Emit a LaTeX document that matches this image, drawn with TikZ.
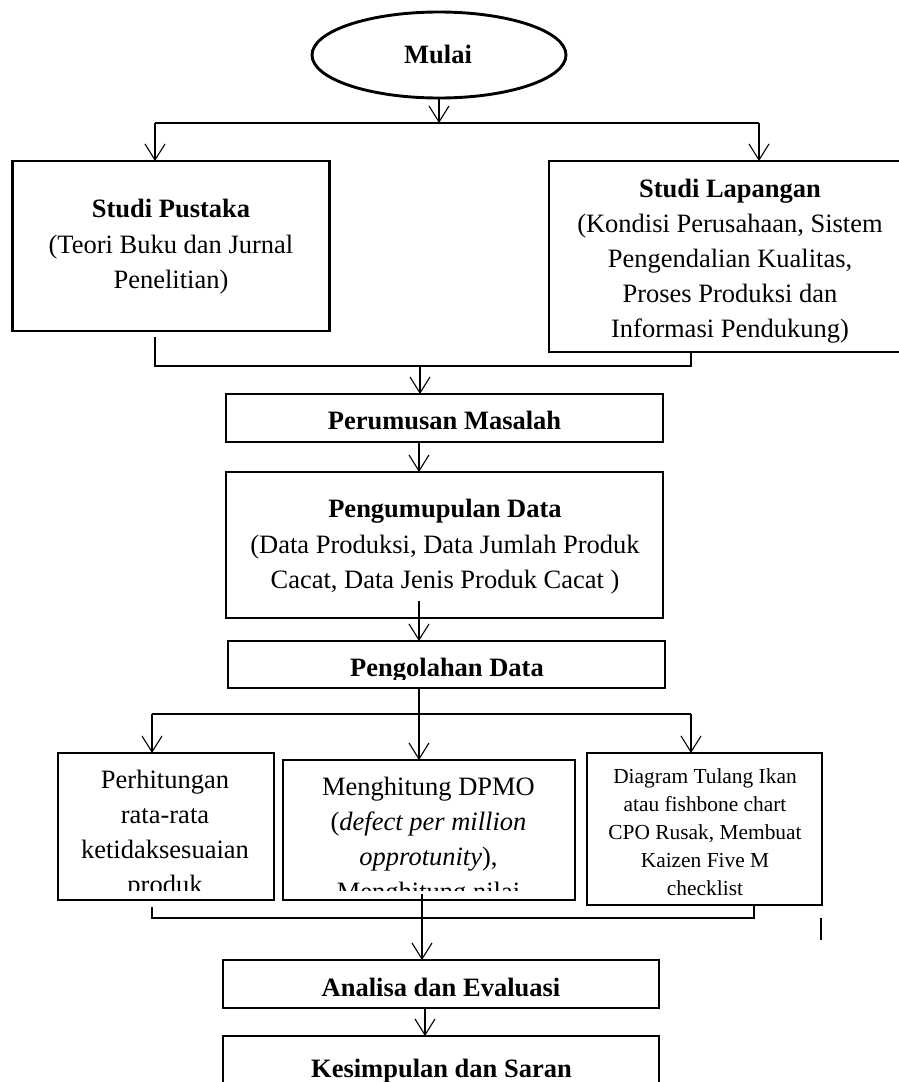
\documentclass[tikz,border=0pt]{standalone}
\usepackage{fontspec}
\setmainfont{Liberation Serif}
\usetikzlibrary{arrows.meta,shapes.geometric}
\begin{document}
\begin{tikzpicture}[x=1pt,y=-1pt,
 box/.style={draw, rectangle, line width=2.9pt, inner sep=0pt, outer sep=0pt},
 tx/.style={anchor=base, inner sep=0pt, font=\fontsize{26.5}{35}\selectfont},
 txs/.style={anchor=base, inner sep=0pt, font=\fontsize{21.4}{28}\selectfont},
 conn/.style={line width=1.1pt},
 arr/.style={conn, -{Straight Barb[length=16pt,width=20pt]}}]
\clip (0,0) rectangle (899,1082);
\fill[white] (0,0) rectangle (899,1082);

% shapes
\node[draw, ellipse, line width=2.9pt, inner sep=0pt, minimum width=254pt, minimum height=86pt] (mulai) at (439,55) {};
\node[box, minimum width=317pt, minimum height=170pt] (pustaka) at (171,246) {};
\node[box, minimum width=363pt, minimum height=191pt] (lapangan) at (730.5,256.5) {};
\node[box, minimum width=437pt, minimum height=48pt] (perumusan) at (444.5,418) {};
\node[box, minimum width=437pt, minimum height=146pt] (pengumpulan) at (444.5,545) {};
\node[box, minimum width=437pt, minimum height=47pt] (pengolahan) at (446.5,664.5) {};
\node[box, minimum width=216pt, minimum height=147pt] (perhitungan) at (166,826.5) {};
\node[box, minimum width=292pt, minimum height=140pt] (menghitung) at (429,830) {};
\node[box, minimum width=235pt, minimum height=152pt] (diagram) at (704.5,829) {};
\node[box, minimum width=436pt, minimum height=48pt] (analisa) at (441,984) {};
\node[box, minimum width=436pt, minimum height=74pt] (kesimpulan) at (441,1073) {};

% texts
\node[tx] (tmulai) at (438,63) {\textbf{Mulai}};
\node[tx] (tp1) at (171,217) {\textbf{Studi Pustaka}};
\node[tx] (tp2) at (171,253) {(Teori Buku dan Jurnal};
\node[tx] (tp3) at (171,288) {Penelitian)};
\node[tx] (tl1) at (730,197) {\textbf{Studi Lapangan}};
\node[tx] (tl2) at (730,232) {(Kondisi Perusahaan, Sistem};
\node[tx] (tl3) at (730,267) {Pengendalian Kualitas,};
\node[tx] (tl4) at (730,302) {Proses Produksi dan};
\node[tx] (tl5) at (730,337) {Informasi Pendukung)};
\node[tx] (tr1) at (444.5,429) {\textbf{Perumusan Masalah}};
\node[tx] (tg1) at (445,517) {\textbf{Pengumupulan Data}};
\node[tx] (tg2) at (445,553) {(Data Produksi, Data Jumlah Produk};
\node[tx] (tg3) at (445,588) {Cacat, Data Jenis Produk Cacat )};
\begin{scope}
\clip (228,641) rectangle (665,679);
\node[tx] (to1) at (447,676) {\textbf{Pengolahan Data}};
\end{scope}
\begin{scope}
\clip (58,753) rectangle (274,890);
\node[tx] (th1) at (165,788) {Perhitungan};
\node[tx] (th2) at (165,823) {rata-rata};
\node[tx] (th3) at (165,858) {ketidaksesuaian};
\node[tx] (th4) at (165,893) {produk};
\end{scope}
\begin{scope}
\clip (283,760) rectangle (575,890);
\node[tx] (tm1) at (428.5,795) {Menghitung DPMO};
\node[tx] (tm2) at (428.5,830) {(\textit{defect per million}};
\node[tx] (tm3) at (428.5,865) {\textit{opprotunity}),};
\node[tx] (tm4) at (428.5,900) {Menghitung nilai};
\end{scope}
\node[txs] (td1) at (705,783) {Diagram Tulang Ikan};
\node[txs] (td2) at (705,811) {atau fishbone chart};
\node[txs] (td3) at (705,839) {CPO Rusak, Membuat};
\node[txs] (td4) at (705,867) {Kaizen Five M};
\node[txs] (td5) at (705,895) {checklist};
\node[tx] (ta1) at (441,996) {\textbf{Analisa dan Evaluasi}};
\node[tx] (tk1) at (441.5,1077) {\textbf{Kesimpulan dan Saran}};

% junction coordinates
\coordinate (j1l) at (155,123);
\coordinate (j1m) at (439,123);
\coordinate (j1r) at (759,123);
\coordinate (j2s) at (155,337);
\coordinate (j2l) at (155,366);
\coordinate (j2m) at (420,366);
\coordinate (j2r) at (691,366);
\coordinate (j3s) at (419,601);
\coordinate (j4m) at (419,714);
\coordinate (j4l) at (152,714);
\coordinate (j4r) at (691,714);
\coordinate (j5s) at (152,907);
\coordinate (j5l) at (152,918);
\coordinate (j5r) at (754,918);
\coordinate (j6s) at (422,894);
\coordinate (j7a) at (821,918);
\coordinate (j7b) at (821,940);

% connectors
\draw[arr] (mulai.south) -- (j1m);
\draw[conn] (j1l) -- (j1r);
\draw[arr] (j1l) -- (j1l |- pustaka.north);
\draw[arr] (j1r) -- (j1r |- lapangan.north);
\draw[conn] (j2s) -- (j2l) -- (j2r) -- (j2r |- lapangan.south);
\draw[arr] (j2m) -- (j2m |- perumusan.north);
\draw[arr] (419,0 |- perumusan.south) -- (419,0 |- pengumpulan.north);
\draw[arr] (j3s) -- (j3s |- pengolahan.north);
\draw[conn] (j4m |- pengolahan.south) -- (j4m);
\draw[conn] (j4l) -- (j4r);
\draw[arr] (j4l) -- (j4l |- perhitungan.north);
\draw[arr] (j4m) -- (j4m |- menghitung.north);
\draw[arr] (j4r) -- (j4r |- diagram.north);
\draw[conn] (j5s) -- (j5l) -- (j5r) -- (j5r |- diagram.south);
\draw[arr] (j6s) -- (j6s |- analisa.north);
\draw[conn] (j7a) -- (j7b);
\draw[arr] (425,0 |- analisa.south) -- (425,0 |- kesimpulan.north);
\end{tikzpicture}
\end{document}
